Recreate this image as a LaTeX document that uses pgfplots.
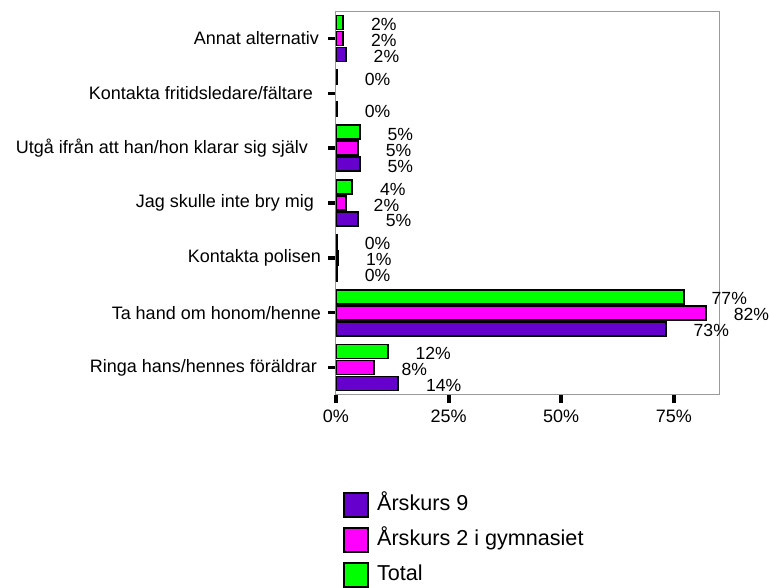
\documentclass[border=0pt]{standalone}
\usepackage{fontspec}
\setmainfont{Liberation Sans}
\usepackage{pgfplots}
\pgfplotsset{compat=1.18}
\definecolor{cPur}{HTML}{6600CC}
\definecolor{cPink}{HTML}{FF00FF}
\definecolor{cGreen}{HTML}{00FF00}
\begin{document}
\begin{tikzpicture}
\begin{axis}[
  at={(0,0)}, anchor=south west,
  scale only axis, width=192pt, height=192pt,
  xbar, bar width=7pt,
  xmin=0, xmax=85.2, ymin=-0.5, ymax=6.5,
  axis line style={draw=black!40, line width=0.5pt},
  xtick={0,25,50,75}, xticklabels={0\%,25\%,50\%,75\%},
  ytick={0,1,2,3,4,5,6},
  yticklabels={Ringa hans/hennes föräldrar\hspace*{2pt},
               Ta hand om honom/henne,
               Kontakta polisen,
               Jag skulle inte bry mig\hspace*{3.5pt},
               Utgå ifrån att han/hon klarar sig själv\hspace*{6.5pt},
               Kontakta fritidsledare/fältare\hspace*{4pt},
               Annat alternativ\hspace*{1pt}},
  tick pos=left, tick align=outside, major tick length=4pt,
  xtick style={black, line width=2pt},
  ytick style={black, line width=1.7pt},
  ticklabel style={font=\fontsize{9}{11}\selectfont},
  /pgf/number format/assume math mode=true,
  point meta=explicit,
  nodes near coords={\pgfmathprintnumber[fixed,precision=0,assume math mode=true]{\pgfplotspointmeta}\%},
  every node near coord/.append style={font=\fontsize{8.8}{10}\selectfont, anchor=west, inner sep=0pt, xshift=13.5pt, yshift=-1pt, black},
  legend image code/.code={\draw[#1, line width=0.9pt] (0pt,-6pt) rectangle (12pt,6pt);},
  legend style={draw=none, fill=none, at={(axis description cs:0,0)}, anchor=north west,
    xshift=3.5pt, yshift=-48.5pt, inner sep=0pt, row sep=4.5pt,
    font=\fontsize{10.8}{13}\selectfont,
    nodes={inner sep=0pt, text height=8pt, text depth=2.5pt}},
  legend cell align=left,
  /tikz/every odd column/.append style={column sep=4pt},
]
\addplot[draw=black, line width=0.9pt, fill=cPur, bar shift=-8pt] table[x=x, y=y, meta=l] {
x y l
13.8 0 14
73.2 1 73
0.25 2 0
4.9 3 5
5.3 4 5
0.25 5 0
2.2 6 2
};
\addlegendentry{Årskurs 9}
\addplot[draw=black, line width=0.9pt, fill=cPink, bar shift=0pt] table[x=x, y=y, meta=l] {
x y l
8.4 0 8
82.1 1 82
0.5 2 1
2.2 3 2
4.9 4 5
1.6 6 2
};
\addlegendentry{Årskurs 2 i gymnasiet}
\addplot[draw=black, line width=0.9pt, fill=cGreen, bar shift=8pt] table[x=x, y=y, meta=l] {
x y l
11.5 0 12
77.2 1 77
0.25 2 0
3.6 3 4
5.3 4 5
0.25 5 0
1.6 6 2
};
\addlegendentry{Total}
\end{axis}
\path[use as bounding box] (-168pt,-94.5pt) rectangle (216.5pt,197.5pt);
\end{tikzpicture}
\end{document}
